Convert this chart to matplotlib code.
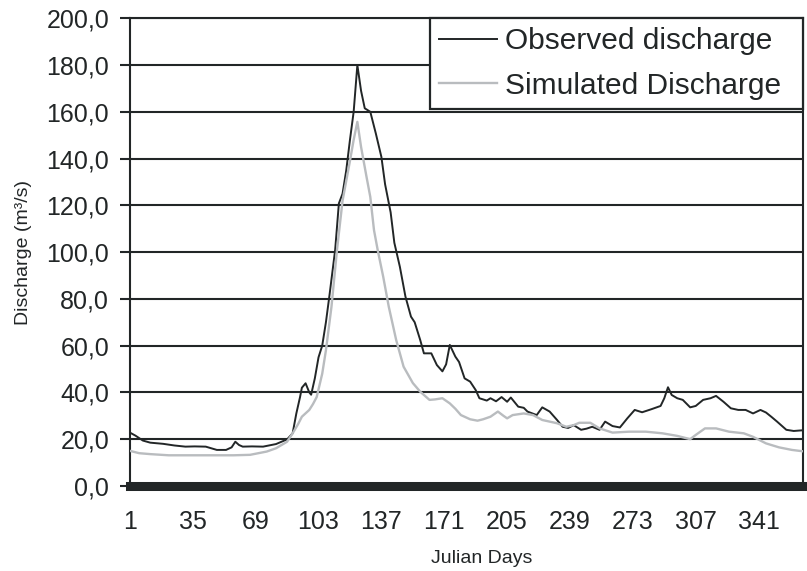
import matplotlib
matplotlib.use("Agg")
import matplotlib.pyplot as plt
from matplotlib.ticker import FuncFormatter

plt.rcParams['font.family'] = ['Liberation Sans', 'DejaVu Sans']

# Observed discharge (Julian day, m3/s)
obs_day = [1, 4, 8, 12, 19, 25, 31, 36, 42, 48, 53, 56, 58, 60, 62, 67, 73, 80, 86, 89,
           91, 93, 94, 96, 98, 99, 101, 103, 105, 107, 109, 112, 114, 116, 118, 120, 122, 124,
           126, 128, 131, 134, 137, 139, 142, 144, 147, 150, 153, 155, 158, 160, 164, 167,
           170, 172, 174, 177, 179, 182, 185, 188, 190, 194, 196, 199, 202, 205, 207, 211,
           214, 216, 221, 224, 228, 232, 235, 238, 241, 245, 248, 251, 255, 258, 262, 266,
           270, 274, 278, 283, 288, 290, 292, 294, 297, 300, 304, 307, 311, 315, 318, 322,
           326, 330, 334, 338, 342, 345, 348, 351, 356, 360, 365]
obs_q = [22.8, 21.5, 19.4, 18.5, 18.0, 17.3, 16.8, 16.9, 16.8, 15.4, 15.4, 16.5, 18.9, 17.5,
         16.8, 16.9, 16.8, 17.9, 19.9, 22.5, 31.0, 38.0, 42.0, 43.9, 40.0, 39.0, 46.0, 55.0,
         60.0, 70.0, 82.0, 101.0, 120.8, 125.0, 135.0, 148.0, 160.0, 180.0, 169.0, 161.5,
         160.0, 150.7, 140.7, 129.0, 117.0, 104.0, 93.7, 81.0, 72.4, 70.0, 62.4, 56.7, 56.7,
         51.7, 49.0, 52.0, 60.3, 55.3, 53.0, 46.0, 44.6, 41.0, 37.5, 36.5, 37.5, 36.2, 38.0,
         36.0, 37.8, 33.9, 33.4, 31.8, 30.3, 33.6, 31.8, 28.2, 25.3, 24.8, 26.0, 24.0, 24.5,
         25.3, 24.0, 27.5, 25.6, 25.0, 28.9, 32.5, 31.5, 32.8, 34.2, 37.5, 42.2, 38.9, 37.5,
         36.8, 33.6, 34.2, 36.8, 37.5, 38.5, 36.0, 33.2, 32.5, 32.5, 31.0, 32.5, 31.4, 29.5,
         27.5, 24.0, 23.5, 23.8]

# Simulated discharge
sim_day = [1, 6, 12, 22, 35, 45, 57, 66, 75, 80, 86, 89, 92, 94, 98, 100, 102, 105, 107,
           110, 113, 116, 120, 122, 124, 126, 129, 131, 133, 135, 138, 141, 145, 149, 154,
           158, 163, 166, 170, 174, 177, 180, 185, 189, 192, 196, 200, 203, 205, 208, 214,
           219, 224, 228, 232, 237, 241, 244, 250, 255, 262, 271, 280, 289, 297, 304, 307,
           312, 318, 325, 333, 338, 345, 352, 359, 365]
sim_q = [15.0, 14.0, 13.6, 13.1, 13.1, 13.1, 13.1, 13.3, 14.7, 16.1, 18.9, 22.5, 26.5, 29.6,
         32.5, 35.0, 38.0, 48.0, 58.0, 76.6, 101.0, 122.0, 139.0, 148.0, 155.7, 145.0, 132.0,
         123.6, 109.4, 100.9, 89.4, 76.6, 62.4, 51.0, 44.0, 40.3, 36.8, 37.0, 37.5, 35.3,
         33.0, 30.3, 28.5, 27.9, 28.5, 29.6, 31.8, 30.0, 28.9, 30.3, 31.0, 30.3, 28.2, 27.5,
         26.8, 25.3, 26.0, 27.0, 27.0, 24.6, 22.8, 23.2, 23.2, 22.5, 21.4, 20.0, 21.8, 24.6,
         24.6, 23.2, 22.5, 21.0, 18.2, 16.5, 15.4, 14.8]

x_ticks = [1, 35, 69, 103, 137, 171, 205, 239, 273, 307, 341]
x_marks = [35, 103, 171, 239, 307]
y_ticks = [0, 20, 40, 60, 80, 100, 120, 140, 160, 180, 200]

dark = '#222627'
gray = '#b9bcbf'

fig = plt.figure(figsize=(8.07, 5.71), dpi=100)
ax = fig.add_axes([0.161, 0.149, 0.834, 0.819])

ax.plot(obs_day, obs_q, color=dark, lw=1.4, label='Observed discharge', zorder=3)
ax.plot(sim_day, sim_q, color=gray, lw=1.7, label='Simulated Discharge', zorder=3)

ax.set_xlim(1, 365)
ax.set_ylim(0, 200)
ax.set_yticks(y_ticks)
ax.set_xticks(x_ticks)
ax.set_xticks(x_marks, minor=True)
ax.yaxis.set_major_formatter(FuncFormatter(lambda v, p: f'{v:.1f}'.replace('.', ',')))
ax.grid(axis='y', color=dark, lw=1.5, zorder=1)
ax.set_axisbelow(True)

for s in ['left', 'right', 'top']:
    ax.spines[s].set_linewidth(1.5)
    ax.spines[s].set_color(dark)
ax.spines['bottom'].set_linewidth(6.5)
ax.spines['bottom'].set_color(dark)

ax.tick_params(axis='y', direction='out', length=7, width=1.5, color=dark,
               labelsize=18, labelcolor=dark, pad=8)
ax.tick_params(axis='x', which='major', length=0, labelsize=18, labelcolor=dark, pad=17)
ax.tick_params(axis='x', which='minor', direction='inout', length=9, width=1.5,
               color='white')

ax.set_xlabel('Julian Days', fontsize=14, color=dark)
ax.xaxis.set_label_coords(0.523, -0.136)
ax.set_ylabel('Discharge (m³/s)', fontsize=14, color=dark, labelpad=10)

leg = ax.legend(loc='upper right', bbox_to_anchor=(0.446, 0, 0.554, 1), mode='expand',
                borderaxespad=0, fontsize=21.5, frameon=True, fancybox=False,
                handlelength=1.95, handletextpad=0.25, labelspacing=0.55, borderpad=0.3)
leg.get_frame().set_edgecolor(dark)
leg.get_frame().set_linewidth(1.6)
leg.get_frame().set_alpha(1)
for t in leg.get_texts():
    t.set_color(dark)

fig.savefig('out.png', dpi=100)
